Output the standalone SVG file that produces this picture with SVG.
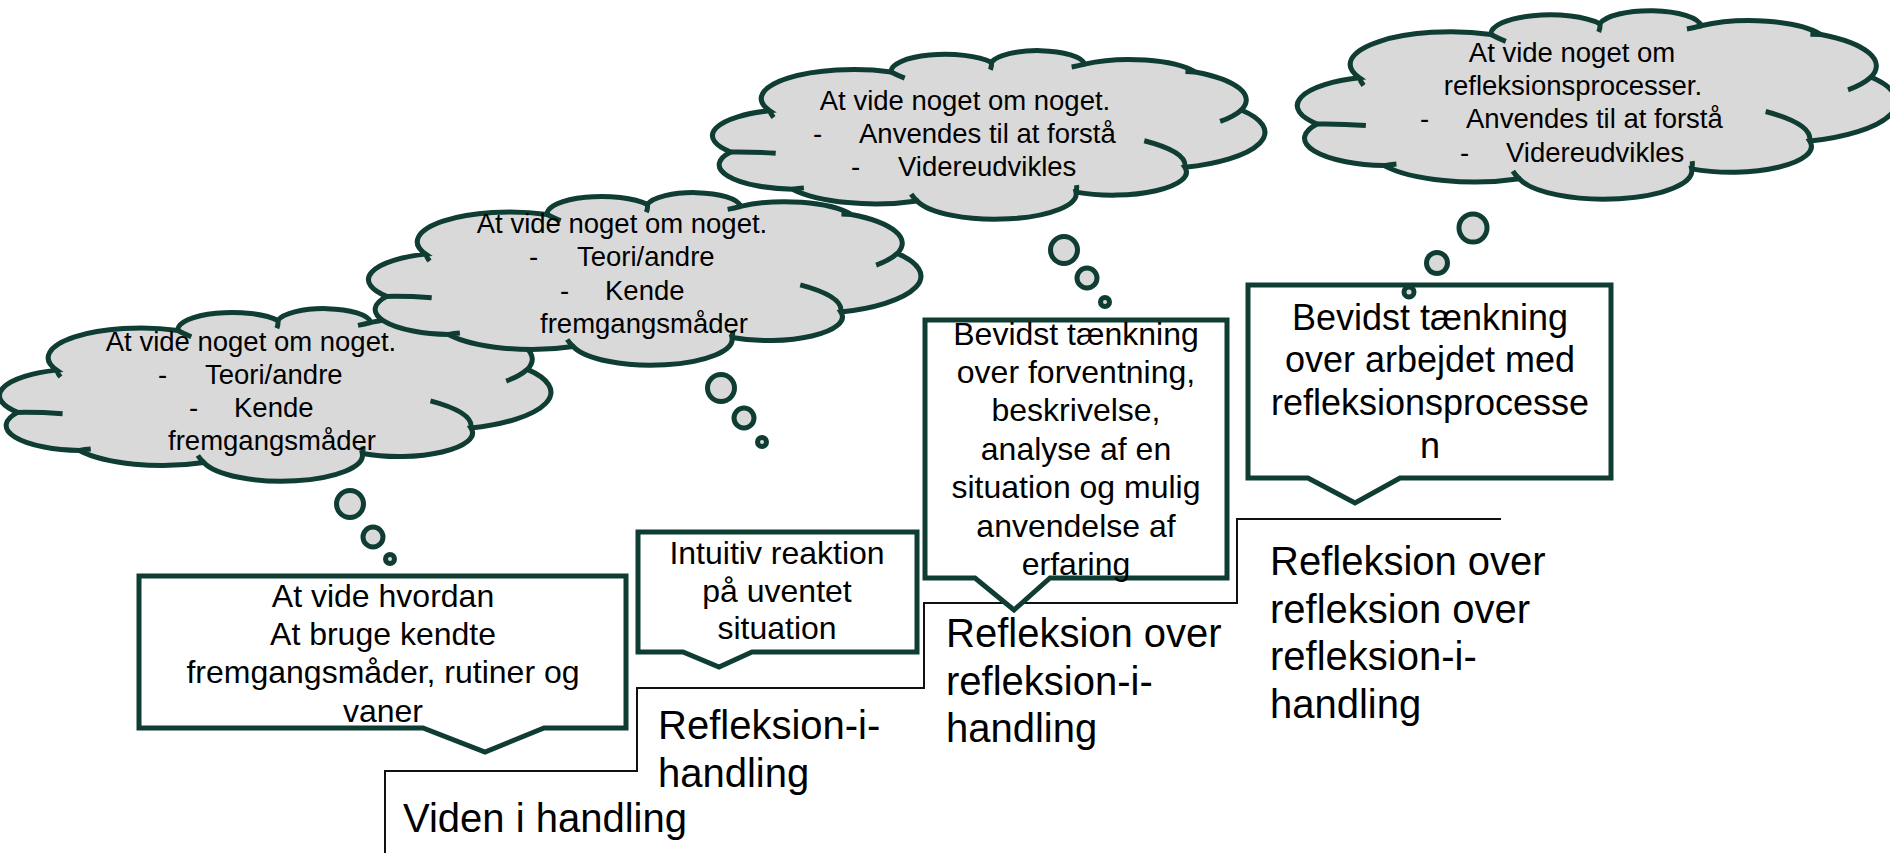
<svg xmlns="http://www.w3.org/2000/svg" xmlns:xlink="http://www.w3.org/1999/xlink" width="1890" height="853" viewBox="0 0 1890 853">
<style>
.box{fill:#fff;stroke:#0f3d33;stroke-width:5;stroke-linejoin:miter}
.cb{fill:#d9d9d9;stroke:#0f3d33;stroke-width:5;vector-effect:non-scaling-stroke}
.ch{fill:none;stroke:#0f3d33;stroke-width:5;vector-effect:non-scaling-stroke}
.bub{fill:#d9d9d9;stroke:#0f3d33;stroke-width:5}
.stair{fill:none;stroke:#111;stroke-width:2}
text{font-family:"Liberation Sans",Arial,sans-serif;fill:#000}
.ct{font-size:27.5px}
.bt{font-size:32px}
.dt{font-size:36px}
.lt{font-size:40px}
.m{text-anchor:middle}
</style>
<defs>
<g id="cloud">
<path class="cb" d="M29,600 A154.6,154.6 0 0 1 101,357 A171,171 0 0 1 325,129 A100.3,100.3 0 0 1 510,72 A87.2,87.2 0 0 1 682,83 A137.7,137.7 0 0 1 886,129 A192,192 0 0 1 971,353 A217.8,217.8 0 0 1 867,690 A136.4,136.4 0 0 1 666,836 A149.7,149.7 0 0 1 373,888 A179.5,179.5 0 0 1 143,819 A143.9,143.9 0 0 1 29,600 Z"/>
<path class="ch" d="M101,357 Q103,377 108,397 M29,600 Q70,598 112,608 M143,819 Q153,814 164,811 M373,888 Q366,868 362,848 M666,836 Q668,815 667,795 M867,690 Q872,600 792,534 M971,353 Q957,392 932,420 M886,129 Q878,128 868,127 M682,83 Q671,93 658,100 M510,72 Q511,94 508,116 M325,129 Q336,148 350,165"/>
</g>
</defs>
<rect width="1890" height="853" fill="#fff"/>

<g id="staircase">
<polyline class="stair" points="385,853 385,771 637,771 637,688 924,688 924,603 1237,603 1237,519 1501,519"/>
</g>

<g id="box-viden">
<path class="box" d="M139,576 H626 V728 H544 L485,752 L423,728 H139 Z"/>
<text class="bt m" x="383" y="607">At vide hvordan</text>
<text class="bt m" x="383" y="645">At bruge kendte</text>
<text class="bt m" x="383" y="683">fremgangsmåder, rutiner og</text>
<text class="bt m" x="383" y="722">vaner</text>
</g>

<g id="box-intuitiv">
<path class="box" d="M638,532 H917 V652 H752 L719,667 L683,652 H638 Z"/>
<text class="bt m" x="777" y="564">Intuitiv reaktion</text>
<text class="bt m" x="777" y="602">på uventet</text>
<text class="bt m" x="777" y="639">situation</text>
</g>

<g id="box-bevidst1">
<path class="box" d="M925,320 H1227 V578 H1050 L1014,610 L975,578 H925 Z"/>
<text class="bt m" x="1076" y="345">Bevidst tænkning</text>
<text class="bt m" x="1076" y="383">over forventning,</text>
<text class="bt m" x="1076" y="421">beskrivelse,</text>
<text class="bt m" x="1076" y="460">analyse af en</text>
<text class="bt m" x="1076" y="498">situation og mulig</text>
<text class="bt m" x="1076" y="537">anvendelse af</text>
<text class="bt m" x="1076" y="575">erfaring</text>
</g>

<g id="box-bevidst2">
<path class="box" d="M1248,285 H1611 V478 H1400 L1355,503 L1308,478 H1248 Z"/>
<text class="dt m" x="1430" y="330">Bevidst tænkning</text>
<text class="dt m" x="1430" y="372">over arbejdet med</text>
<text class="dt m" x="1430" y="415">refleksionsprocesse</text>
<text class="dt m" x="1430" y="458">n</text>
</g>

<g id="label-viden">
<text class="lt" x="403" y="832">Viden i handling</text>
</g>
<g id="label-refleksion-i-handling">
<text class="lt" x="658" y="739">Refleksion-i-</text>
<text class="lt" x="658" y="787">handling</text>
</g>
<g id="label-refleksion-over">
<text class="lt" x="946" y="647">Refleksion over</text>
<text class="lt" x="946" y="695">refleksion-i-</text>
<text class="lt" x="946" y="742">handling</text>
</g>
<g id="label-refleksion-over-over">
<text class="lt" x="1270" y="575">Refleksion over</text>
<text class="lt" x="1270" y="623">refleksion over</text>
<text class="lt" x="1270" y="670">refleksion-i-</text>
<text class="lt" x="1270" y="718">handling</text>
</g>

<g id="cloud-1">
<use href="#cloud" transform="translate(2,308) scale(0.541,0.174)"/>
<text class="ct m" x="251" y="351">At vide noget om noget.</text>
<text class="ct" x="158" y="384">-</text>
<text class="ct" x="205" y="384">Teori/andre</text>
<text class="ct" x="189" y="417">-</text>
<text class="ct" x="234" y="417">Kende</text>
<text class="ct m" x="272" y="450">fremgangsmåder</text>
</g>

<g id="cloud-2">
<use href="#cloud" transform="translate(371,192) scale(0.542,0.174)"/>
<text class="ct m" x="622" y="233">At vide noget om noget.</text>
<text class="ct" x="529" y="266">-</text>
<text class="ct" x="577" y="266">Teori/andre</text>
<text class="ct" x="560" y="300">-</text>
<text class="ct" x="605" y="300">Kende</text>
<text class="ct m" x="644" y="333">fremgangsmåder</text>
</g>

<g id="cloud-3">
<use href="#cloud" transform="translate(715,50) scale(0.542,0.17)"/>
<text class="ct m" x="965" y="110">At vide noget om noget.</text>
<text class="ct" x="813" y="143">-</text>
<text class="ct" x="859" y="143">Anvendes til at forstå</text>
<text class="ct" x="851" y="176">-</text>
<text class="ct" x="898" y="176">Videreudvikles</text>
</g>

<g id="cloud-4">
<use href="#cloud" transform="translate(1300,10) scale(0.588,0.19)"/>
<text class="ct m" x="1572" y="62">At vide noget om</text>
<text class="ct m" x="1573" y="95">refleksionsprocesser.</text>
<text class="ct" x="1420" y="128">-</text>
<text class="ct" x="1466" y="128">Anvendes til at forstå</text>
<text class="ct" x="1460" y="162">-</text>
<text class="ct" x="1506" y="162">Videreudvikles</text>
</g>

<g id="connectors">
<circle class="bub" cx="350" cy="504" r="13.5"/>
<circle class="bub" cx="373" cy="537" r="10"/>
<circle class="bub" cx="390" cy="559" r="4.5"/>
<circle class="bub" cx="721" cy="388" r="13.5"/>
<circle class="bub" cx="744" cy="418" r="10"/>
<circle class="bub" cx="762" cy="442" r="4.5"/>
<circle class="bub" cx="1064" cy="250" r="13.5"/>
<circle class="bub" cx="1087" cy="278" r="10"/>
<circle class="bub" cx="1105" cy="302" r="4.5"/>
<circle class="bub" cx="1473" cy="228" r="14"/>
<circle class="bub" cx="1437" cy="263" r="10.5"/>
<circle class="bub" cx="1409" cy="292" r="5"/>
</g>
</svg>
